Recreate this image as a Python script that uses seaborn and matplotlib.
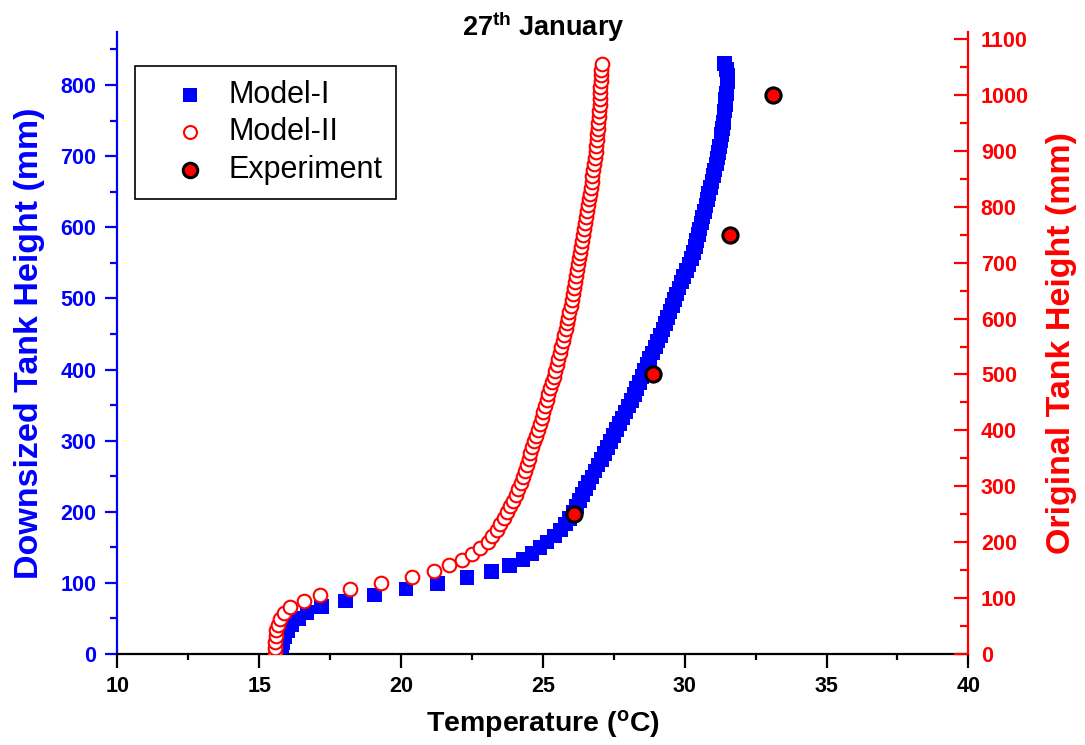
import numpy as np
import pandas as pd
import matplotlib
matplotlib.use("Agg")
import matplotlib.pyplot as plt
import seaborn as sns
from matplotlib.ticker import MultipleLocator

# ---------------- data ----------------
height_mm = [0.0, 8.3, 16.6, 24.9, 33.2, 41.5, 49.8, 58.1, 66.4, 74.7,
             83.0, 91.3, 99.6, 107.9, 116.2, 124.5, 132.8, 141.1, 149.4, 157.7,
             166.0, 174.3, 182.6, 190.9, 199.2, 207.5, 215.8, 224.1, 232.4, 240.7,
             249.0, 257.3, 265.6, 273.9, 282.2, 290.5, 298.8, 307.1, 315.4, 323.7,
             332.0, 340.3, 348.6, 356.9, 365.2, 373.5, 381.8, 390.1, 398.4, 406.7,
             415.0, 423.3, 431.6, 439.9, 448.2, 456.5, 464.8, 473.1, 481.4, 489.7,
             498.0, 506.3, 514.6, 522.9, 531.2, 539.5, 547.8, 556.1, 564.4, 572.7,
             581.0, 589.3, 597.6, 605.9, 614.2, 622.5, 630.8, 639.1, 647.4, 655.7,
             664.0, 672.3, 680.6, 688.9, 697.2, 705.5, 713.8, 722.1, 730.4, 738.7,
             747.0, 755.3, 763.6, 771.9, 780.2, 788.5, 796.8, 805.1, 813.4, 821.7,
             830.0]

model1_temp = [15.80, 15.81, 15.84, 15.90, 16.00, 16.15, 16.38, 16.69, 17.20, 18.04,
               19.07, 20.18, 21.29, 22.33, 23.20, 23.83, 24.30, 24.62, 24.90, 25.15,
               25.40, 25.62, 25.80, 25.95, 26.07, 26.18, 26.29, 26.40, 26.51, 26.62,
               26.73, 26.84, 26.95, 27.06, 27.17, 27.28, 27.39, 27.50, 27.60, 27.71,
               27.82, 27.92, 28.02, 28.12, 28.22, 28.31, 28.41, 28.50, 28.59, 28.68,
               28.77, 28.87, 28.96, 29.05, 29.15, 29.24, 29.32, 29.40, 29.48, 29.56,
               29.64, 29.72, 29.80, 29.88, 29.97, 30.06, 30.15, 30.23, 30.31, 30.37,
               30.42, 30.48, 30.53, 30.59, 30.64, 30.70, 30.75, 30.80, 30.85, 30.90,
               30.96, 31.01, 31.06, 31.11, 31.16, 31.20, 31.24, 31.28, 31.31, 31.34,
               31.37, 31.39, 31.41, 31.43, 31.45, 31.47, 31.49, 31.50, 31.50, 31.48,
               31.40]

model2_temp = [15.56, 15.56, 15.57, 15.58, 15.60, 15.65, 15.74, 15.88, 16.10, 16.57,
               17.16, 18.21, 19.29, 20.39, 21.17, 21.68, 22.15, 22.50, 22.80, 23.05,
               23.22, 23.37, 23.50, 23.62, 23.74, 23.85, 23.95, 24.04, 24.13, 24.22,
               24.29, 24.36, 24.43, 24.50, 24.56, 24.63, 24.70, 24.77, 24.84, 24.90,
               24.96, 25.02, 25.08, 25.14, 25.20, 25.26, 25.32, 25.38, 25.44, 25.49,
               25.55, 25.60, 25.65, 25.70, 25.76, 25.81, 25.85, 25.89, 25.93, 25.98,
               26.02, 26.06, 26.10, 26.13, 26.17, 26.20, 26.24, 26.28, 26.31, 26.35,
               26.38, 26.42, 26.45, 26.49, 26.52, 26.55, 26.59, 26.62, 26.65, 26.69,
               26.72, 26.75, 26.78, 26.81, 26.84, 26.86, 26.88, 26.90, 26.92, 26.94,
               26.96, 26.97, 26.99, 27.00, 27.01, 27.02, 27.03, 27.04, 27.05, 27.06,
               27.07]

exp_temp = [26.1, 28.9, 31.6, 33.1]
exp_height_orig = [250, 500, 750, 1000]

labels = ["Model-I", "Model-II", "Experiment"]

# ---------------- style ----------------
sns.set_style("ticks")
plt.rcParams["font.family"] = ["Liberation Sans", "DejaVu Sans"]
plt.rcParams["mathtext.fontset"] = "custom"
plt.rcParams["mathtext.rm"] = "Liberation Sans"
plt.rcParams["mathtext.bf"] = "Liberation Sans:bold"
plt.rcParams["mathtext.it"] = "Liberation Sans:italic"
plt.rcParams["text.color"] = "black"
plt.rcParams["axes.labelcolor"] = "black"
plt.rcParams["xtick.color"] = "black"
plt.rcParams["ytick.color"] = "black"

BLUE = "#0000ff"
RED = "#ff0000"

df1 = pd.DataFrame({"T": model1_temp, "H": height_mm})
df2 = pd.DataFrame({"T": model2_temp, "H": height_mm})
dfe = pd.DataFrame({"T": exp_temp, "H": exp_height_orig})

fig = plt.figure(figsize=(10.85, 7.45), dpi=100)
ax = fig.add_axes([0.1081, 0.1221, 0.8925 - 0.1081, 0.9566 - 0.1221])
ax2 = ax.twinx()

sns.scatterplot(data=df1, x="T", y="H", ax=ax, marker="s", s=112,
                color=BLUE, edgecolor="none", linewidth=0, label=labels[0], zorder=3)
sns.scatterplot(data=df2, x="T", y="H", ax=ax, marker="o", s=96,
                facecolor="white", edgecolor=RED, linewidth=1.5, label=labels[1], zorder=4)
sns.scatterplot(data=dfe, x="T", y="H", ax=ax2, marker="o", s=120,
                color=RED, edgecolor="black", linewidth=2.2, label=labels[2], zorder=5)

ax.set_xlim(10, 40)
ax.set_ylim(0, 874)
ax2.set_ylim(0, 1112)

ax.xaxis.set_major_locator(MultipleLocator(5))
ax.xaxis.set_minor_locator(MultipleLocator(2.5))
ax.yaxis.set_major_locator(MultipleLocator(100))
ax.yaxis.set_minor_locator(MultipleLocator(50))
ax2.yaxis.set_major_locator(MultipleLocator(100))
ax2.yaxis.set_minor_locator(MultipleLocator(50))

for a in (ax, ax2):
    a.spines["top"].set_visible(False)
    for sp in a.spines.values():
        sp.set_linewidth(1.6)

ax.spines["right"].set_visible(False)
ax.spines["left"].set_color(BLUE)
ax.spines["bottom"].set_color("black")
ax2.spines["left"].set_visible(False)
ax2.spines["bottom"].set_visible(False)
ax2.spines["right"].set_color(RED)

ax.tick_params(axis="x", which="major", direction="out", length=10, width=1.6,
               colors="black", labelsize=15.5, pad=6)
ax.tick_params(axis="x", which="minor", direction="out", length=4.5, width=1.6, colors="black")
ax.tick_params(axis="y", which="major", direction="out", length=9, width=1.6,
               colors=BLUE, labelsize=15.5, pad=6)
ax.tick_params(axis="y", which="minor", direction="out", length=4.8, width=1.6, colors=BLUE)
ax2.tick_params(axis="y", which="major", direction="in", length=10, width=1.6,
                colors=RED, labelsize=15.5, pad=9)
ax2.tick_params(axis="y", which="minor", direction="in", length=5.5, width=1.6, colors=RED)

for lab in ax.get_xticklabels() + ax.get_yticklabels() + ax2.get_yticklabels():
    lab.set_fontweight("bold")

ax.set_xlabel(r"Temperature ($^{\mathbf{o}}$C)", fontsize=20.5, fontweight="bold",
              color="black", labelpad=8)
ax.set_ylabel("Downsized Tank Height (mm)", fontsize=24.5, fontweight="bold",
              color=BLUE, labelpad=11)
ax2.set_ylabel("Original Tank Height (mm)", fontsize=24.5, fontweight="bold",
               color=RED, labelpad=12)
ax.set_title(r"27$^{\mathbf{th}}$ January", fontsize=19.5, fontweight="bold",
             color="black", y=1.0, pad=-3)

# legend
for a in (ax, ax2):
    lg = a.get_legend()
    if lg is not None:
        lg.remove()
h1, l1 = ax.get_legend_handles_labels()
h2, l2 = ax2.get_legend_handles_labels()
leg = ax2.legend(h1 + h2, l1 + l2, loc="upper left", bbox_to_anchor=(0.021, 0.946),
                 borderaxespad=0, frameon=True, fancybox=False, framealpha=1,
                 edgecolor="black", fontsize=22, markerscale=0.95,
                 handlelength=2.7, handletextpad=-0.1, labelspacing=0.25,
                 borderpad=0.45)
for t in leg.get_texts():
    t.set_color("black")
leg.get_frame().set_linewidth(1.2)
leg.set_zorder(10)

fig.savefig("out.png", dpi=100)
